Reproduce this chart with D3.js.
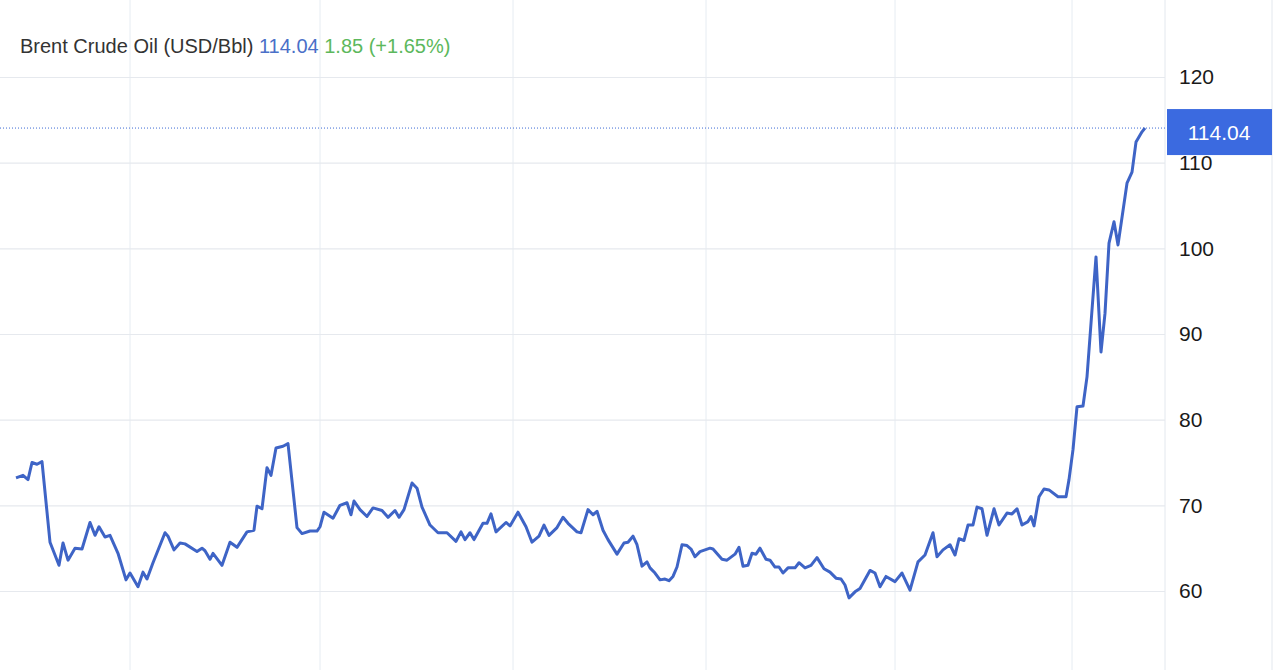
<!DOCTYPE html>
<html><head><meta charset="utf-8">
<script src="https://cdn.jsdelivr.net/npm/d3@7"></script>
<style>
  body { margin: 0; background: #fff; }
  svg { display: block; font-family: 'Liberation Sans', Arial, sans-serif; }
</style>
</head><body>
<svg id="chart" width="1280" height="670"></svg>
<script>
// Brent crude, trading-day index vs price (USD/Bbl)
const days = [16,23,28,32,37,42,50,59,63,68,75,82,90,95,99,105,110,118,126,130,138,143,147,153,165,168,174,180,185,197,202,205,210,213,222,230,237,247,254,257,262,267,271,276,283,288,297,302,310,317,320,324,333,340,347,351,354,360,367,373,382,388,395,399,404,412,417,422,430,438,447,456,461,465,470,474,483,487,491,496,506,510,518,526,532,539,544,549,557,563,568,577,581,588,593,597,603,608,617,624,628,633,637,642,647,650,655,660,665,669,673,677,682,687,691,695,700,710,713,722,727,735,739,743,748,752,756,760,766,770,775,779,783,788,795,799,805,811,817,824,830,836,841,845,849,855,860,870,875,880,886,895,902,910,918,925,933,937,943,950,955,959,964,968,973,977,982,987,994,999,1007,1012,1017,1022,1028,1031,1034,1039,1044,1049,1058,1066,1069,1073,1077,1083,1087,1092,1096,1101,1105,1109,1114,1118,1127,1132,1136,1142,1145];
const prices = [73.2,73.5,73.0,75.0,74.8,75.1,65.7,63.0,65.6,63.6,65.0,64.9,68.0,66.5,67.5,66.3,66.5,64.4,61.3,62.1,60.5,62.2,61.4,63.3,66.8,66.4,64.8,65.6,65.5,64.6,65.0,64.7,63.7,64.4,63.0,65.7,65.1,66.9,67.1,69.9,69.6,74.4,73.5,76.7,76.9,77.2,67.4,66.7,67.0,67.0,67.5,69.2,68.5,70.0,70.3,68.9,70.5,69.5,68.7,69.7,69.4,68.6,69.4,68.6,69.5,72.6,72.0,69.8,67.7,66.8,66.8,65.8,66.9,66.0,66.8,66.0,67.9,67.9,69.0,66.9,68.0,67.6,69.2,67.5,65.7,66.4,67.7,66.5,67.4,68.6,67.9,66.9,66.8,69.5,68.9,69.3,67.1,66.0,64.3,65.6,65.7,66.4,65.4,62.9,63.4,62.7,62.1,61.3,61.4,61.2,61.7,62.8,65.4,65.3,64.9,64.0,64.6,65.0,64.9,63.7,63.6,64.3,65.1,62.9,63.0,64.4,64.3,65.0,63.7,63.6,62.8,62.8,62.1,62.7,62.7,63.3,62.7,63.0,63.9,62.6,62.2,61.5,61.4,60.7,59.2,59.9,60.3,62.4,62.1,60.5,61.7,61.1,62.1,60.1,63.4,64.2,66.8,64.0,64.8,65.4,64.2,66.1,65.9,67.7,67.7,69.8,69.6,66.5,69.6,67.7,69.1,69.0,69.6,67.7,68.1,68.7,67.6,71.0,71.9,71.8,71.0,71.0,73.0,76.5,81.5,81.6,85.0,92.8,99.0,87.9,92.4,100.6,103.1,100.4,107.6,108.9,112.4,113.6,114.04];
const yTicks = [60, 70, 80, 90, 100, 110, 120];
const xGridDays = [130, 320, 513, 706, 895, 1072];
const last = 114.04, change = 1.85, changePct = 1.65;

const svg = d3.select('#chart');
const W = 1165, plotTop = 0, plotBottom = 670;

const x = d3.scaleLinear().domain([0, 1165]).range([0, W]);
const y = d3.scaleLinear().domain([60, 120]).range([591, 77]);

// vertical grid
svg.append('g').selectAll('line').data(xGridDays).join('line')
  .attr('x1', d => x(d)).attr('x2', d => x(d))
  .attr('y1', plotTop).attr('y2', plotBottom)
  .attr('stroke', '#e6ecf2').attr('stroke-width', 1);
// plot borders on the right
svg.append('line').attr('x1', W).attr('x2', W).attr('y1', 0).attr('y2', plotBottom)
  .attr('stroke', '#e3e8ee');
svg.append('line').attr('x1', 1272).attr('x2', 1272).attr('y1', 0).attr('y2', plotBottom)
  .attr('stroke', '#e3e8ee');

// horizontal grid + labels via axis
const yAxis = svg.append('g')
  .attr('transform', `translate(${W},0)`)
  .call(d3.axisRight(y).tickValues(yTicks).tickSize(-W).tickPadding(14).tickFormat(d3.format('d')));
yAxis.select('.domain').remove();
yAxis.selectAll('line').attr('stroke', '#e6e9ee').attr('stroke-width', 1.2);
yAxis.selectAll('text')
  .attr('fill', '#1a1a1a')
  .style('font-size', '21px')
  .style('font-family', "'Liberation Sans', Arial, sans-serif");

// last price dotted line
svg.append('line')
  .attr('x1', 0).attr('x2', W)
  .attr('y1', y(last)).attr('y2', y(last))
  .attr('stroke', '#3d6ad6').attr('stroke-width', 1).attr('stroke-dasharray', '1,2');

// price line
const pts = days.map((d, i) => [d, prices[i]]);
svg.append('path').datum(pts)
  .attr('fill', 'none')
  .attr('stroke', '#3e64c6')
  .attr('stroke-width', 3)
  .attr('stroke-linejoin', 'round')
  .attr('d', d3.line().x(d => x(d[0])).y(d => y(d[1])));

// price tag
svg.append('rect')
  .attr('x', W + 2).attr('y', y(last) - 19).attr('width', 105).attr('height', 46)
  .attr('fill', '#3b6ae0');
svg.append('text')
  .attr('x', W + 54).attr('y', y(last) + 12)
  .attr('text-anchor', 'middle')
  .attr('fill', '#fff').style('font-size', '21px')
  .text(last.toFixed(2));

// title
const t = svg.append('text').attr('x', 20).attr('y', 53).style('font-size', '20px');
t.append('tspan').attr('fill', '#333').text('Brent Crude Oil (USD/Bbl) ');
t.append('tspan').attr('fill', '#4a70c8').text(last.toFixed(2) + '  ');
t.append('tspan').attr('fill', '#5cb85c').text(`${change.toFixed(2)} (+${changePct.toFixed(2)}%)`);
</script>
</body></html>
